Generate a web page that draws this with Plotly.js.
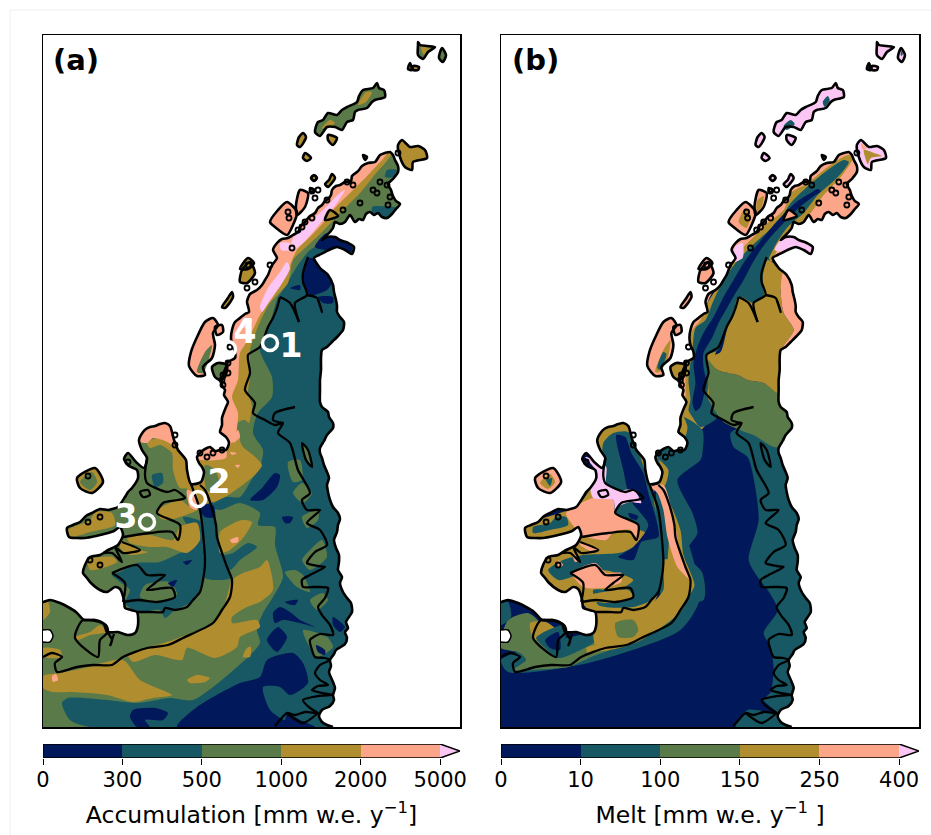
<!DOCTYPE html>
<html><head><meta charset="utf-8">
<script src="https://cdn.plot.ly/plotly-3.0.1.min.js"></script>
<style>html,body{margin:0;padding:0;background:#fff}</style></head>
<body><div id="chart" style="width:931px;height:835px"></div>
<script>
const levelColors=['#01195a','#175864','#5a7a4a','#b08d2f','#fda589','#fbc6f3'];
const accTicks=['0','300','500','1000','2000','5000'];
const meltTicks=['0','10','100','150','250','400'];
const accLabel='Accumulation [mm w.e. y<sup>−1</sup>]';
const meltLabel='Melt [mm w.e. y<sup>−1</sup> ]';
const sites=[[270,343],[198,499],[147,522],[228,349]];
const siteLabels=[['1',291,349],['2',219,485],['3',126,520],['4',245,335]];
const islets=[[314,178],[312,191],[318,190],[315,198],[327,200],[343,210],[353,185],[347,182],[380,182],[387,185],[377,193],[390,197],[373,190],[360,203],[388,205],[305,222],[312,218],[298,230],[302,227],[289,218],[288,212],[292,248],[248,265],[270,265],[398,153],[255,282],[247,288],[230,347],[223,375],[228,363],[222,380],[223,385],[228,373],[207,457],[213,453],[200,453],[222,450],[88,476],[128,462],[100,517],[88,522],[175,435],[175,445],[90,560],[100,565]];

const coast=[333,727,327,725,322,722,319,716,322,710,330,706,334,700,333,695,335,688,333,682,329,672,331,666,330,660,334,654,336,650,345,644,347,638,345,632,348,628,346,622,352,612,351,603,347,598,343,592,340,583,342,577,338,570,339,562,339,555,336,548,334,540,337,532,338,525,340,519,338,513,333,507,330,500,328,492,327,485,329,478,327,472,324,465,322,458,320,453,320,448,324,441,327,435,333,428,333,423,329,417,328,412,322,407,320,402,320,390,320,380,321,370,321,358,322,350,327,347,332,342,338,336,343,330,344,322,340,317,337,312,337,306,336,300,334,292,333,285,328,275,320,268,314,258,319,255,325,252,331,249,337,247,345,250,352,254,354,247,350,244,346,242,340,240,335,237,327,237,322,240,330,232,333,228,335,222,340,224,345,222,350,215,355,222,359,219,363,220,366,214,370,212,374,215,378,213,382,217,387,218,392,214,396,209,400,204,396,201,393,196,391,190,388,184,393,179,398,172,398,166,395,160,393,155,390,152,385,153,380,155,375,162,368,163,362,166,359,170,357,172,352,176,351,181,345,182,340,185,336,186,332,190,331,195,328,199,325,201,322,205,318,208,315,213,310,216,305,222,301,226,298,232,293,235,288,238,282,239,277,243,273,250,277,258,272,265,270,270,268,275,265,280,262,285,257,290,250,294,248,298,247,302,249,312,245,314,240,318,235,322,232,330,231,338,232,345,235,352,235,358,228,362,226,367,224,372,222,379,222,385,225,390,224,395,228,402,226,407,224,412,222,418,222,425,220,432,226,437,229,443,226,450,220,450,215,451,210,447,205,449,201,452,197,457,199,463,202,467,204,472,201,482,191,484,187,470,186,460,178,450,176,445,174,440,172,432,170,426,165,423,160,424,155,426,150,427,146,429,143,432,139,440,142,450,147,458,144,468,136,462,128,453,124,459,129,466,137,470,138,478,132,488,128,492,125,497,118,507,112,509,108,510,100,509,92,513,86,516,80,522,73,525,67,528,69,537,77,538,85,538,96,536,108,533,114,531,120,527,123,535,118,545,108,550,100,555,90,557,85,565,83,573,87,578,90,582,100,590,107,592,115,587,120,589,124,600,125,608,131,610,137,612,138,625,135,633,128,635,118,632,107,632,104,624,95,620,84,620,76,612,68,607,60,603,50,600,43,602,25,602];
const seaCorners=[15,15,480,15,480,745,333,745];
const seaHole=[43,630,50,630,53,636,50,642,43,642];

const lineLarsen=[308,257,303,273,303,282,307,295,295,303,299,322];
const lineLarsen2=[307,295,317,298,322,312,318,300];
const lineEast=[280,297,277,308,273,318,268,327,260,347,248,355,250,373,245,390,255,403,253,413,265,420,275,425,283,423,278,433,290,443,298,470,310,493,302,500,307,510,320,510,307,523,320,530,327,545,315,552,307,563,318,566,325,567,310,575,302,580,303,587,315,587,328,588,325,598,318,607,322,615,330,625,333,635,320,634,310,640,312,650,315,657,325,658,330,660,320,665,315,673,320,680,328,685,318,686,312,690,322,693,333,695,318,696,303,700,310,708,318,713,305,712,295,715,287,713,280,720,275,726];
const lineEastB=[318,713,303,723,287,713];
const lineSpur=[295,407,275,413,273,420,283,423];
const lineHook=[280,297,290,303,299,322];
const lineMain=[200,485,205,490,211,505,216,525,217,537,227,567,232,580,230,597,222,610,213,623,183,638,168,645,147,648,123,657,112,665,93,665,77,667,57,672,55,663,62,657,52,653,43,657];
const lineGeorge=[191,484,200,510,203,533,205,563,203,580,200,592,193,600,187,607,175,610,165,608,163,612,150,612,137,612];
const lineAlexA=[147,458,145,475,147,483,167,492,175,490,185,498,178,500,163,503,157,513,180,525,178,540,172,532,150,533,123,537];
const lineAlexB=[122,542,140,550,123,553,115,547,122,562,112,553,103,553];
const lineAlexC=[112,573,137,565,147,575,165,575,155,583,147,590,172,588,175,597,157,602,138,600,123,602];
const lineAlexD=[112,573,125,583,123,602];
const lineIslandS=[83,620,106,625,108,632,100,640,98,657,75,638,83,620];
const lineFjord=[302,443,308,450,312,467,306,460,302,443];
const lineBit1=[108,633,112,640,110,646,114,634];
const lineBit2=[140,492,148,490,150,495,143,497,140,492];

const islandE1=[418,42,420,45,427,46,435,47,428,52,423,59,418,55,418,45];
const islandE2=[442,48,446,55,443,62,439,58];
const islandE3=[410,63,412,70,408,69];
const islandE4=[413,66,419,67,418,70,413,70];
const islandKG=[377,83,379,88,384,90,385,97,375,100,372,102,367,108,358,110,355,112,353,120,347,122,342,130,335,127,327,127,320,136,315,132,318,122,323,120,328,113,337,115,342,110,347,107,357,102,359,96,363,90,373,88];
const islandS1=[303,133,306,137,300,147,297,145,299,137];
const islandS2=[328,135,337,138,333,145,328,140];
const islandS3=[305,153,311,158,307,161,303,158];
const islandS4=[363,155,367,157,365,160];
const islandJv=[402,140,410,147,418,146,425,150,427,158,413,162,412,170,405,167,400,157,398,145];
const islandS5=[314,175,317,178,314,181,311,178];
const islandS6=[332,174,335,178,331,184,328,187,325,184,329,180];
const islandS7=[310,188,314,190,311,193];
const islandBr=[300,190,308,193,305,207,297,215,296,205];
const islandAn=[287,202,297,212,293,225,287,235,275,227,270,222,278,210];
const islandS8=[248,258,254,263,248,269,240,269];
const islandS9=[240,282,242,270,250,262,255,273,247,283];
const islandS10=[232,292,233,297,225,308,222,307,228,298];
const islandAd=[213,318,218,325,213,333,215,345,212,358,203,367,205,375,197,376,189,366,191,352,198,335,205,322];
const islandC1=[212,367,218,363,227,365,225,377,220,380,215,377];
const islandC2=[215,327,222,325,223,332,217,335];
const islandC3=[330,210,338,216,325,220];
const islandLat=[77,478,95,468,103,482,92,493,80,488];
const islandList=[islandE1,islandE2,islandE3,islandE4,islandKG,islandS1,islandS2,islandS3,islandS4,islandJv,islandS5,islandS6,islandS7,islandBr,islandAn,islandS8,islandS9,islandS10,islandAd,islandC1,islandC2,islandC3,islandLat];
const islandLevelA=[2,2,3,3,2,3,3,3,3,3,3,3,3,4,4,3,3,3,4,2,4,3,3];
const islandLevelB=[5,5,0,5,5,5,5,5,5,5,5,5,5,4,4,4,4,4,4,3,4,4,4];

const wholeLand=[43,35,460,35,460,727,43,727];

// Panel (a)
const aTealEast=[300,262,310,250,325,243,360,240,365,727,90,727,70,720,62,703,68,698,107,700,137,703,170,698,193,700,237,667,260,643,257,630,263,613,273,597,283,577,275,545,275,527,258,525,260,513,240,503,220,510,210,507,225,497,240,497,253,477,260,467,263,450,253,433,258,413,272,397,272,377,260,350,270,323,278,297,283,290,293,273];
const aTealPatch=[220,557,233,553,248,543,257,547,240,560,230,570];
const aTealStrip=[199,500,212,500,217,537,228,570,231,578,205,578,205,540];
const aTealAlex=[112,575,120,572,137,563,160,562,180,553,195,548,205,560,203,580,195,600,175,610,165,618,160,610,137,612,125,603,130,590,120,582];
const aTealAlex2=[183,517,203,523,203,557,187,557,197,543];
const aTealAlex3=[152,475,162,473,163,483,155,487];
const aTealPen=[372,207,397,207,400,205,392,220,375,220];
const aTealPen2=[387,170,397,170,393,177,385,177];
const aGreenAlex=[145,585,170,582,177,595,155,602,140,597];
const aGreen1=[288,462,300,460,302,480,293,482];
const aGreen2=[293,493,302,483,312,493,303,503];
const aGreen3=[302,517,318,510,318,520,307,528];
const aGreen4=[302,560,310,550,322,540,327,557,310,570];
const aGreen5=[285,572,295,570,303,575,310,592,297,587];
const aGreen6=[310,600,323,593,328,600,317,610];
const aGreen7=[303,630,327,637,333,647,317,657];
const aGreen8=[302,443,308,450,312,467,306,460];
const aNavy1=[308,258,317,260,332,282,327,290,310,295,303,282,303,270];
const aNavy2=[327,233,352,247,352,252,338,247,327,250,315,247];
const aNavy3=[290,288,300,285,300,290];
const aNavy4=[318,297,333,297,333,303,323,303];
const aNavy5=[250,500,262,488,275,473,280,475,277,487,263,500];
const aNavy6=[282,517,293,517,290,523,285,523];
const aNavy7=[285,602,298,600,295,605,288,604];
const aNavy8=[273,613,280,607,290,612,300,620,315,627,300,623,283,620,275,623];
const aNavy9=[267,640,278,627,287,637,277,652];
const aNavy10=[177,727,197,707,240,683,260,677,267,660,293,653,303,663,308,683,290,695,280,687,263,687,270,710,285,720,287,713,300,720,315,727];
const aNavy11=[130,717,133,710,155,708,168,713,163,720,145,720,150,727,137,727];
const aNavy12=[316,645,325,650,325,655,318,652];
const aNavy13=[333,617,345,627,340,632,333,625];
const aNavy14=[168,583,177,580,173,587];
const aNavy15=[183,562,192,560,187,565];
const aNavy16=[198,506,213,505,215,517,205,517];
const aOchre1=[128,655,173,640,212,623,225,603,232,580,243,573,260,567,267,560,273,590,260,602,247,607,232,617,232,623,257,620,260,627,240,637,237,647,215,658,187,648,182,660,155,655,133,662];
const aOchre2=[243,657,247,648,251,647,250,657];
const aOchre3=[187,680,197,675,210,678,205,682,190,683];
const aOchre4=[43,676,60,673,85,668,123,660,140,680,172,695,153,698,133,702,107,695,73,692,53,692,43,688];
const aOchre5=[43,603,48,602,50,612,43,620];
const aOchre6=[43,648,60,650,62,657,43,657];
const aOchre7=[75,637,90,632,100,625,107,632,90,635,78,640];
const aOchre8=[220,532,230,525,242,520,252,522,243,538,230,550,220,553];
const aOchre9=[147,443,157,438,173,443,187,460,190,487,180,488,173,470,172,453,160,445,150,448];
const aOchre10=[158,510,180,500,190,507,197,510,180,517,167,520,160,518];
const aOchre11=[127,538,150,535,173,540,180,527,197,523,200,540,187,553,167,547,150,547,130,543];
const aOchre12=[68,530,90,520,95,512,112,513,115,525,90,532,70,537];
const aOchre13=[122,540,140,550,148,552,130,555,120,548];
const aOchre14=[88,560,113,557,117,562,103,568,90,570];
const aOchreWest=[393,150,373,177,360,193,340,213,327,227,317,237,303,250,293,260,288,283,270,303,260,322,250,350,250,377,248,393,252,407,247,430,240,440,243,447,253,455,262,465,255,475,240,487,225,497,210,503,190,503,185,450,170,400,200,300,300,180,380,130];
const aGreenInO1=[237,423,245,420,253,430,250,443,240,438];
const aGreenInO2=[205,465,215,470,220,490,207,490];
const aSalmonWest=[388,150,370,173,353,190,333,210,323,223,310,237,297,250,287,272,273,297,260,315,248,340,240,353,238,380,232,397,238,413,235,437,227,450,226,458,195,458,180,400,180,320,260,200,360,130];
const aSalmonAlex=[135,440,147,422,170,420,175,445,163,440,153,438,147,443];
const aSalmon1=[230,540,238,537,238,542,232,543];
const aSalmon2=[232,440,238,430,240,437,233,443];
const aSalmon3=[235,465,240,465,238,468];
const aSalmon4=[230,452,237,453,232,455];
const aSalmon5=[187,490,197,495,197,510,190,507];
const aSalmon6=[52,676,56,674,58,680,53,682];
const aPink1=[280,243,290,243,290,250,281,250];
const aPink2=[290,252,303,243,323,220,337,203,345,190,340,193,323,210,303,228,293,238];
const aPink3=[260,307,268,288,280,272,287,262,290,268,281,285,270,300,262,312];
const aPink4=[240,327,244,318,252,320,250,327];
const aOverKG1=[322,128,330,120,335,123,328,128];
const aOverKG2=[358,105,366,92,372,92,366,102];
const aOverJv=[405,148,415,150,423,155,412,158,408,165,403,158];
const aOverAd=[197,372,205,352,212,345,208,362,203,373];
const aOverE1=[421,47,430,48,424,55];
const aOverLat=[80,482,92,472,97,482,90,490];

// Panel (b)
const bEastTeal=[287,427,320,445,360,450,360,727,277,727,289,710,319,713,305,700,312,692,315,670,312,647,305,633,319,610,309,590,299,577,290,560,300,520,295,478,289,457,275,447,272,433];
const bTealGap=[285,282,310,258,312,300,292,308,278,300];
const bTealWestBand=[224,417,244,430,244,453,242,460,219,480,234,513,239,533,227,553,244,573,245,600,205,600,198,490,204,470,197,455,215,445,226,440];
const bOchreRim2=[195,452,213,445,226,438,229,427,224,416,215,432,205,440,198,450,204,472,200,484,206,486,210,470];
const bGreen=[250,360,259,370,279,375,289,380,305,383,320,393,340,393,350,447,330,447,315,447,295,435,289,433,265,422,252,403,250,387];
const bOchre=[309,260,325,273,322,290,325,313,335,330,325,347,320,393,305,383,289,380,279,375,259,370,250,358,262,352,269,328,277,312,282,297,295,303,305,297,304,277];
const bSalmonE=[325,270,334,283,338,310,350,327,330,350,325,347,335,330,325,313,322,290];
const bSalmonNorth=[410,135,420,165,400,215,380,235,360,262,330,262,290,262,270,270,250,300,238,345,238,420,232,440,226,460,190,460,170,400,180,300,260,190,360,130];
const bOchreSpine=[389,155,369,167,349,183,332,193,325,210,309,223,296,236,285,247,270,267,259,287,249,303,242,320,234,330,229,357,227,380,227,407,224,417,229,427,240,432,250,420,255,360,270,325,300,285,312,262,322,245,335,230,352,213,365,195,382,177,394,158];
const bTealSpine=[385,160,365,173,345,190,332,203,319,223,304,236,292,247,277,263,265,280,254,303,247,320,237,328,234,350,230,380,232,400,230,410,234,417,242,427,259,417,249,397,250,383,249,355,260,350,267,327,275,317,279,297,294,295,299,273,309,260,318,243,329,227,345,213,359,195,379,177,390,162];
const bNavySpine=[359,189,352,193,339,201,326,213,315,225,305,237,297,247,285,263,275,280,265,297,255,317,245,333,239,347,235,363,237,383,234,403,237,411,242,407,245,397,248,383,245,367,245,353,254,337,260,323,269,307,277,293,284,282,294,263,304,247,312,237,323,225,341,207,354,197,362,191];
const bPinkN=[325,237,352,245,356,255,338,250,325,252,316,250];
const bPink2=[277,246,284,243,284,258,274,262];
const bSalmonGeorge=[192,487,205,485,215,517,220,543,229,573,232,580,219,567,209,537,205,510,199,493];
const bTealRim=[213,500,222,520,235,560,241,600,222,630,130,663,50,672,43,660,100,640,180,620,232,575,217,535];
const bOchreRim=[212,505,222,530,225,555,236,585,230,597,223,610,210,600,212,520];
const bGreenWest=[50,620,70,613,85,627,82,640,100,658,132,645,140,640,167,643,133,657,110,667,65,670,55,670,68,660,62,653,43,648,43,640];
const bOchreW1=[72,623,88,622,100,632,90,635,76,640];
const bTealW=[78,638,90,630,105,625,108,632,102,655,90,650];
const bNavyW=[87,640,100,632,102,650,92,648];
const bTealW2=[43,603,50,602,53,617,43,625];
const bOchreW2=[128,648,140,645,142,650,130,654];
const bOchreLow=[137,617,185,610,205,590,205,560,212,560,232,580,232,592,222,612,179,642,139,650];
const bGreenLow=[157,623,175,620,180,630,175,637,160,637];
const bAlexOchre=[135,425,175,420,195,490,205,570,190,612,140,618,120,600,100,595,70,570,60,530,120,505,140,470];
const bAlexTeal=[145,443,155,433,170,432,182,457,188,477,194,493,198,517,202,543,205,563,197,597,175,607,140,605,135,590,160,590,175,580,145,570,120,575,100,580,90,570,105,560,125,555,165,552,190,535,170,525,150,510,145,470];
const bAlexNavy=[158,435,167,437,173,453,185,473,190,493,198,520,200,537,183,542,175,560,160,557,175,547,190,525,172,500,165,470];
const bNavySmall=[170,513,180,516,178,520,172,518];
const bSalmonBig=[108,513,135,498,155,500,157,513,165,517,180,525,180,540,172,530,155,532,148,540,123,535,116,527];
const bPinkBig=[132,487,137,470,127,457,137,460,148,467,148,483,158,490,175,490,183,503,172,502,160,507,157,513,155,500,135,498];
const bSalmonLow=[114,573,137,563,148,573,163,573,163,582,145,588,125,587];
const bSalmonF1=[122,542,140,550,135,552,122,545];
const bSalmonF2=[114,553,122,560,117,562];
const bSalmonF3=[100,560,105,565,100,568];
const bTealFinger=[75,527,92,523,98,517,108,517,110,525,92,530,75,533];
const bOchreLow2=[125,597,170,590,175,597,150,603,130,600];
const bOverKG=[325,126,332,120,336,124,328,130];
const bOverKG2=[369,96,371,100,366,107,364,102];
const bOverJv=[405,150,415,153,423,156,412,158,409,164];
const bOverJv2=[402,143,408,148,404,150];
const bOverAd=[197,372,205,350,212,340,209,360,201,372];
const bOverAd2=[199,368,205,352,208,354,202,370];
const bOverAn=[280,222,287,208,292,215,288,228];
const bOverBr=[299,200,305,196,303,207,298,212];
const bOverLat=[82,483,92,474,97,482,90,489];
const bOverLat2=[88,480,94,478,92,486];
const bOverE2=[442,50,444,54,442,56];

const layersA=[[wholeLand,2],[aTealEast,1],[aTealPatch,1],[aTealStrip,1],[aTealAlex,1],[aTealAlex2,1],[aTealAlex3,1],[aTealPen,1],[aTealPen2,1],[aGreenAlex,2],[aGreen1,2],[aGreen2,2],[aGreen3,2],[aGreen4,2],[aGreen5,2],[aGreen6,2],[aGreen7,2],[aGreen8,2],[aNavy1,0],[aNavy2,0],[aNavy3,0],[aNavy4,0],[aNavy5,0],[aNavy6,0],[aNavy7,0],[aNavy8,0],[aNavy9,0],[aNavy10,0],[aNavy11,0],[aNavy12,0],[aNavy13,0],[aNavy14,0],[aNavy15,0],[aNavy16,0],[aOchre1,3],[aOchre2,3],[aOchre3,3],[aOchre4,3],[aOchre5,3],[aOchre6,3],[aOchre7,3],[aOchre8,3],[aOchre9,3],[aOchre10,3],[aOchre11,3],[aOchre12,3],[aOchre13,3],[aOchre14,3],[aOchreWest,3],[aGreenInO1,2],[aGreenInO2,2],[aSalmonWest,4],[aSalmonAlex,4],[aSalmon1,4],[aSalmon2,4],[aSalmon3,4],[aSalmon4,4],[aSalmon5,4],[aSalmon6,4],[aPink1,5],[aPink2,5],[aPink3,5],[aPink4,5]];
const layersB=[[wholeLand,0],[bSalmonNorth,4],[bOchreSpine,3],[bTealSpine,1],[bTealGap,1],[bNavySpine,0],[bPinkN,5],[bPink2,5],[bEastTeal,1],[bGreen,2],[bOchre,3],[bSalmonE,4],[bAlexOchre,3],[bTealRim,1],[bTealWestBand,1],[bOchreRim2,3],[bGreenWest,2],[bTealW2,1],[bOchreW1,3],[bTealW,1],[bNavyW,0],[bOchreW2,3],[bOchreLow,3],[bGreenLow,2],[bOchreRim,3],[bSalmonGeorge,4],[bAlexTeal,1],[bAlexNavy,0],[bNavySmall,0],[bSalmonBig,4],[bPinkBig,5],[bSalmonLow,4],[bSalmonF1,4],[bSalmonF2,4],[bSalmonF3,4],[bTealFinger,1],[bOchreLow2,3]];
const overA=[[aOverKG1,3],[aOverKG2,3],[aOverJv,3],[aOverAd,2],[aOverE1,3],[aOverLat,2]];
const overB=[[bOverKG,1],[bOverKG2,1],[bOverJv,3],[bOverJv2,4],[bOverAd,3],[bOverAd2,1],[bOverAn,3],[bOverBr,3],[bOverLat,3],[bOverLat2,1],[bOverE2,1]];
const blackLines=[lineLarsen,lineLarsen2,lineEast,lineEastB,lineSpur,lineHook,lineMain,lineGeorge,lineAlexA,lineAlexB,lineAlexC,lineAlexD,lineIslandS,lineFjord,lineBit1,lineBit2];

function xs(a,close){const o=[];for(let i=0;i<a.length;i+=2)o.push(a[i]);if(close)o.push(a[0]);return o}
function ys(a,close){const o=[];for(let i=1;i<a.length;i+=2)o.push(a[i]);if(close)o.push(a[1]);return o}
const traces=[];
function fillPoly(a,c,ax,ay,smooth){traces.push({type:'scatter',mode:'lines',x:xs(a,true),y:ys(a,true),xaxis:ax,yaxis:ay,fill:'toself',fillcolor:c,hoverinfo:'skip',showlegend:false,
  line:smooth?{width:0,shape:'spline',smoothing:0.7,color:c}:{width:0,color:c}})}
function stroke(a,ax,ay,close,w){traces.push({type:'scatter',mode:'lines',x:xs(a,close),y:ys(a,close),xaxis:ax,yaxis:ay,hoverinfo:'skip',showlegend:false,line:{color:'#000',width:w||2.6,shape:'spline',smoothing:0.7}})}
function panel(layers,over,islandLevel,ax,ay){
  layers.forEach(l=>fillPoly(l[0],levelColors[l[1]],ax,ay,l[0]!==wholeLand));
  fillPoly(coast.concat(seaCorners),'#ffffff',ax,ay,true);
  fillPoly(seaHole,'#ffffff',ax,ay,false);
  islandList.forEach((p,i)=>fillPoly(p,levelColors[islandLevel[i]],ax,ay,true));
  over.forEach(l=>fillPoly(l[0],levelColors[l[1]],ax,ay,true));
  stroke(coast,ax,ay,false);
  blackLines.forEach(l=>stroke(l,ax,ay,false,2.3));
  islandList.forEach(p=>stroke(p,ax,ay,true));
  stroke(seaHole,ax,ay,false,1.5);
  traces.push({type:'scatter',mode:'markers',x:islets.map(s=>s[0]),y:islets.map(s=>s[1]),xaxis:ax,yaxis:ay,hoverinfo:'skip',showlegend:false,
    marker:{symbol:'circle-open',size:5,color:'#000',line:{color:'#000',width:1.8}}});
}
panel(layersA,overA,islandLevelA,'x','y');
panel(layersB,overB,islandLevelB,'x2','y2');
traces.push({type:'scatter',mode:'markers',x:sites.map(s=>s[0]),y:sites.map(s=>s[1]),xaxis:'x',yaxis:'y',hoverinfo:'skip',showlegend:false,
  marker:{symbol:'circle-open',size:15,color:'#fff',line:{color:'#fff',width:3.5}}});
traces.push({type:'scatter',mode:'text',x:siteLabels.map(s=>s[1]),y:siteLabels.map(s=>s[2]),text:siteLabels.map(s=>s[0]),xaxis:'x',yaxis:'y',hoverinfo:'skip',showlegend:false,
  textfont:{family:'DejaVu Sans',size:33,color:'#fff',weight:700},textposition:'middle center'});
function colorbar(ax,ay){
  const cs=[];levelColors.slice(0,5).forEach((c,i)=>{cs.push([i/5,c]);cs.push([(i+1)/5,c])});
  traces.push({type:'heatmap',x:[0.5,1.5,2.5,3.5,4.5],y:[0],z:[[0,1,2,3,4]],zmin:-0.5,zmax:4.5,colorscale:cs,showscale:false,xaxis:ax,yaxis:ay,hoverinfo:'skip'});
  traces.push({type:'scatter',mode:'lines',x:[5,5.25,5,5],y:[-0.5,0,0.5,-0.5],fill:'toself',fillcolor:levelColors[5],line:{width:0},xaxis:ax,yaxis:ay,hoverinfo:'skip',showlegend:false});
  traces.push({type:'scatter',mode:'lines',x:[0,0,5,5.25,5,0],y:[-0.5,0.5,0.5,0,-0.5,-0.5],line:{color:'#000',width:1.5},xaxis:ax,yaxis:ay,hoverinfo:'skip',showlegend:false,cliponaxis:false});
}
colorbar('x3','y3');colorbar('x4','y4');
const W=931,H=835;
const mapAxisX=(l,r)=>({domain:[l/W,r/W],range:[43,460],showline:true,mirror:true,linecolor:'#000',linewidth:1.5,showgrid:false,zeroline:false,showticklabels:false,ticks:''});
const mapAxisY=(anchor)=>({domain:[1-727/H,1-35/H],range:[727,35],anchor,showline:true,mirror:true,linecolor:'#000',linewidth:1.5,showgrid:false,zeroline:false,showticklabels:false,ticks:''});
const cbX=(l,r,t,lab,anchor)=>({domain:[l/W,r/W],range:[0,5.25],anchor,tickmode:'array',tickvals:[0,1,2,3,4,5],ticktext:t,ticks:'outside',ticklen:6,tickwidth:1,tickcolor:'#000',showgrid:false,zeroline:false,showline:false,tickangle:0,ticklabelstandoff:-3,
  tickfont:{family:'DejaVu Sans',size:21,color:'#000'},title:{text:lab,font:{family:'DejaVu Sans',size:23.5,color:'#000'},standoff:15}});
const cbY=(anchor)=>({domain:[1-758/H,1-744/H],range:[-0.5,0.5],anchor,showticklabels:false,ticks:'',showgrid:false,zeroline:false,showline:false});
const layout={width:W,height:H,margin:{l:0,r:0,t:0,b:0},paper_bgcolor:'#fff',plot_bgcolor:'#fff',showlegend:false,font:{family:'DejaVu Sans',color:'#000'},
  xaxis:mapAxisX(43,460),yaxis:mapAxisY('x'),xaxis2:mapAxisX(501,919),yaxis2:mapAxisY('x2'),
  xaxis3:cbX(43,460,accTicks,accLabel,'y3'),yaxis3:cbY('x3'),xaxis4:cbX(501,919,meltTicks,meltLabel,'y4'),yaxis4:cbY('x4'),
  annotations:[
   {xref:'paper',yref:'paper',x:51/W,y:1-60/H,xanchor:'left',yanchor:'middle',showarrow:false,text:'<b>(a)</b>',font:{family:'DejaVu Sans',size:29,color:'#000'}},
   {xref:'paper',yref:'paper',x:510/W,y:1-60/H,xanchor:'left',yanchor:'middle',showarrow:false,text:'<b>(b)</b>',font:{family:'DejaVu Sans',size:29,color:'#000'}}],
  shapes:[{type:'rect',xref:'paper',yref:'paper',x0:10/W,x1:932/W,y0:-1/H,y1:1-10/H,line:{color:'#eeeeee',width:1},layer:'below'}]};
Plotly.newPlot('chart',traces,layout,{staticPlot:true,displayModeBar:false});
</script></body></html>
